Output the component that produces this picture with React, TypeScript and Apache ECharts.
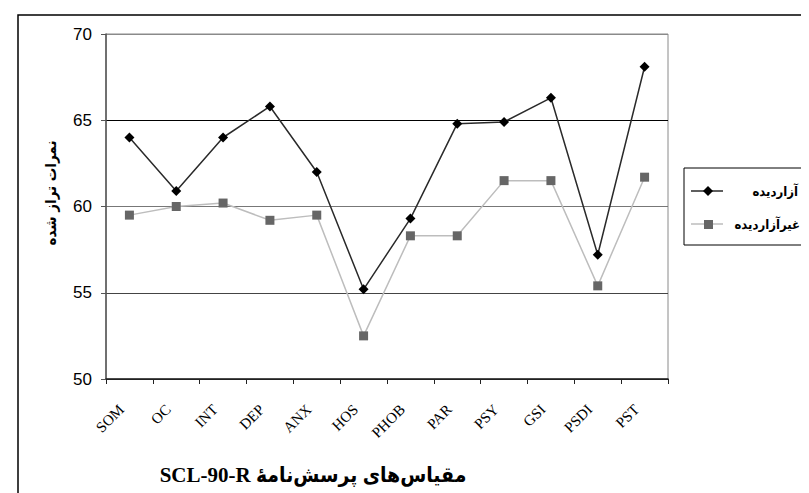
import React, { useEffect, useRef } from "react";
import * as echarts from "echarts";

const categories = ["SOM", "OC", "INT", "DEP", "ANX", "HOS", "PHOB", "PAR", "PSY", "GSI", "PSDI", "PST"];
const abusedValues = [64.0, 60.9, 64.0, 65.8, 62.0, 55.2, 59.3, 64.8, 64.9, 66.3, 57.2, 68.1];
const nonAbusedValues = [59.5, 60.0, 60.2, 59.2, 59.5, 52.5, 58.3, 58.3, 61.5, 61.5, 55.4, 61.7];
const seriesNames = ["آزاردیده", "غیرآزاردیده"];
const yTicks = { min: 50, max: 70, interval: 5 };
const xTitle = "مقیاس‌های پرسش‌نامهٔ SCL-90-R";
const yTitle = "نمرات تراز شده";

const RLE = "\u202B";
const PDF = "\u202C";

export default function App() {
  const ref = useRef<HTMLDivElement>(null);
  useEffect(() => {
    if (!ref.current) return;
    const chart = echarts.init(ref.current, undefined, { renderer: "svg" });
    chart.setOption({
      animation: false,
      backgroundColor: "#fff",
      grid: {
        left: 98,
        right: 149,
        top: 26,
        bottom: 122,
        show: true,
        borderColor: "#8a8a8a",
        borderWidth: 1,
      },
      xAxis: {
        type: "category",
        data: categories,
        boundaryGap: true,
        axisLine: { lineStyle: { color: "#222", width: 1.5 } },
        axisTick: { show: true, length: 5, lineStyle: { color: "#222" } },
        axisLabel: { show: false },
      },
      yAxis: {
        type: "value",
        min: yTicks.min,
        max: yTicks.max,
        interval: yTicks.interval,
        axisLine: { show: true, lineStyle: { color: "#555", width: 1.5 } },
        axisTick: { show: true, length: 5, lineStyle: { color: "#555" } },
        axisLabel: {
          margin: 14,
          fontFamily: "Liberation Sans Narrow, Liberation Sans",
          fontSize: 17,
          color: "#000",
        },
        splitLine: {
          show: true,
          lineStyle: { color: ["#222", "#444", "#777", "#000", "#8a8a8a"], width: 1 },
        },
      },
      series: [
        {
          name: seriesNames[0],
          type: "line",
          data: abusedValues,
          symbol: "diamond",
          symbolSize: 10,
          lineStyle: { color: "#2a2a2a", width: 1.5 },
          itemStyle: { color: "#000" },
          z: 3,
        },
        {
          name: seriesNames[1],
          type: "line",
          data: nonAbusedValues,
          symbol: "rect",
          symbolSize: 9,
          lineStyle: { color: "#bdbdbd", width: 1.5 },
          itemStyle: { color: "#666" },
          z: 2,
        },
      ],
    });

    // Category tick labels, placed through the chart's own axis scale and rotated 45°
    const labelGraphics = categories.map((c, i) => {
      const p = chart.convertToPixel({ xAxisIndex: 0, yAxisIndex: 0 }, [i, yTicks.min]) as number[];
      return {
        type: "text",
        id: "xlab" + i,
        x: p[0] - 8,
        y: p[1] + 28,
        rotation: Math.PI / 4,
        style: {
          text: c,
          fontFamily: "Liberation Serif",
          fontSize: 15,
          fill: "#000",
          align: "right",
          verticalAlign: "middle",
        },
      };
    });

    chart.setOption({
      graphic: [
        {
          type: "rect",
          id: "frame",
          shape: { x: 10, y: 7, width: 800, height: 492 },
          style: { fill: "none", stroke: "#000", lineWidth: 1.5 },
          silent: true,
        },
        ...labelGraphics,
        {
          type: "text",
          id: "ytitle",
          x: 43,
          y: 185,
          rotation: Math.PI / 2,
          style: {
            text: yTitle,
            fontSize: 15,
            fontWeight: "bold",
            fontFamily: "DejaVu Sans Condensed, DejaVu Sans",
            fill: "#000",
            align: "center",
            verticalAlign: "middle",
          },
        },
        {
          type: "text",
          id: "xtitle",
          x: 305,
          y: 467,
          style: {
            text: RLE + xTitle + PDF,
            fontSize: 21,
            fontWeight: "bold",
            fontFamily: "Liberation Serif, DejaVu Sans Condensed",
            fill: "#000",
            align: "center",
            verticalAlign: "middle",
          },
        },
        {
          type: "rect",
          id: "legbox",
          shape: { x: 676, y: 160, width: 121, height: 77 },
          style: { fill: "#fff", stroke: "#000", lineWidth: 1 },
        },
        {
          type: "line",
          id: "legline1",
          shape: { x1: 683, y1: 183, x2: 715, y2: 183 },
          style: { stroke: "#2a2a2a", lineWidth: 1.5 },
        },
        {
          type: "polygon",
          id: "legsym1",
          shape: { points: [[700, 178], [705, 183], [700, 188], [695, 183]] },
          style: { fill: "#000" },
        },
        {
          type: "text",
          id: "legtext1",
          x: 790,
          y: 183,
          style: {
            text: seriesNames[0],
            fontSize: 13,
            fontWeight: "bold",
            fontFamily: "DejaVu Sans Condensed, DejaVu Sans",
            fill: "#000",
            align: "right",
            verticalAlign: "middle",
          },
        },
        {
          type: "line",
          id: "legline2",
          shape: { x1: 683, y1: 216, x2: 715, y2: 216 },
          style: { stroke: "#bdbdbd", lineWidth: 1.5 },
        },
        {
          type: "rect",
          id: "legsym2",
          shape: { x: 696, y: 212, width: 9, height: 9 },
          style: { fill: "#666" },
        },
        {
          type: "text",
          id: "legtext2",
          x: 792,
          y: 216,
          style: {
            text: seriesNames[1],
            fontSize: 13,
            fontWeight: "bold",
            fontFamily: "DejaVu Sans Condensed, DejaVu Sans",
            fill: "#000",
            align: "right",
            verticalAlign: "middle",
          },
        },
      ],
    });
    return () => chart.dispose();
  }, []);
  return <div ref={ref} style={{ width: 809, height: 493 }} />;
}
